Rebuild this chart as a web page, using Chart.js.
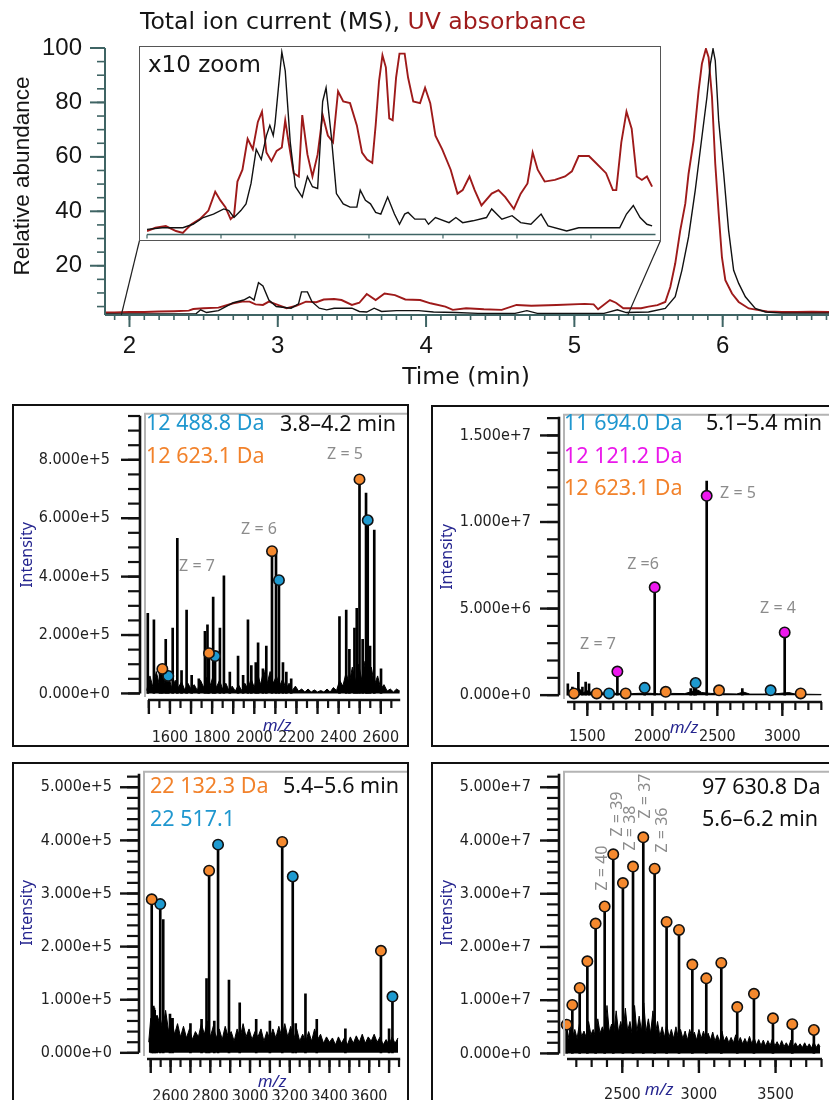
<!DOCTYPE html>
<html><head><meta charset="utf-8">
<script src="https://cdn.jsdelivr.net/npm/chart.js@4.4.1/dist/chart.umd.min.js"></script>
<style>
html,body{margin:0;padding:0;background:#fff;width:829px;height:1100px;overflow:hidden;position:relative}
canvas{position:absolute}
.box{position:absolute;border:2px solid #111;box-sizing:border-box;background:#fff}
.t{position:absolute;white-space:nowrap;line-height:1}
.c{transform:translate(-50%,-50%)}
.l{transform:translate(0,-50%)}
.rv{transform:translate(-50%,-50%) rotate(-90deg)}
.top{font-family:'DejaVu Sans',sans-serif;color:#151515}
.ar{font-family:'Liberation Sans',Arial,sans-serif;color:#151515}
.lab{font-family:'Noto Sans',sans-serif;font-size:21.5px}
.z{font-family:'Noto Sans',sans-serif;font-size:16px;color:#8c8c8c}
.nav{font-family:'Noto Sans',sans-serif;font-size:16px;color:#25258f}
.mz{font-family:'Noto Sans',sans-serif;font-size:17px;color:#25258f;font-style:italic}
</style></head><body>

<canvas id="cTop" width="829" height="392" style="left:0;top:0;width:829px;height:392px"></canvas>
<div class="box" style="left:139px;top:46px;width:522px;height:195px;border:1.5px solid #555"></div>
<canvas id="cInset" width="518" height="191" style="left:141px;top:48px;width:518px;height:191px"></canvas>

<div class="box" style="left:12px;top:404px;width:397px;height:343px"></div>
<div class="box" style="left:431px;top:405px;width:402px;height:342px"></div>
<div class="box" style="left:12px;top:762px;width:397px;height:360px"></div>
<div class="box" style="left:431px;top:762px;width:402px;height:360px"></div>

<canvas id="cA" width="393" height="338" style="left:14px;top:406px;width:393px;height:338px"></canvas>
<canvas id="cB" width="396" height="338" style="left:433px;top:407px;width:396px;height:338px"></canvas>
<canvas id="cC" width="393" height="336" style="left:14px;top:764px;width:393px;height:336px"></canvas>
<canvas id="cD" width="396" height="336" style="left:433px;top:764px;width:396px;height:336px"></canvas>

<!-- top chart texts -->
<div class="t top" style="left:140px;top:22px;font-size:23.6px;transform:translate(0,-50%)">Total ion current (MS), <span style="color:#9e1a1a">UV absorbance</span></div>
<div class="t ar rv" style="left:22px;top:176px;font-size:22.5px">Relative abundance</div>
<div class="t top c" style="left:466px;top:377px;font-size:23.5px">Time (min)</div>
<div class="t top l" style="left:148px;top:64px;font-size:23px">x10 zoom</div>

<!-- panel A -->
<div class="t lab l" style="left:146px;top:422px;color:#1f97cf">12 488.8 Da</div>
<div class="t lab l" style="left:146px;top:455px;color:#f2822b">12 623.1 Da</div>
<div class="t lab l" style="left:280px;top:423px;color:#111">3.8–4.2 min</div>
<div class="t z c" style="left:345px;top:453px">Z = 5</div>
<div class="t z c" style="left:259px;top:528px">Z = 6</div>
<div class="t z c" style="left:197px;top:565px">Z = 7</div>
<div class="t nav rv" style="left:26px;top:555px">Intensity</div>
<div class="t mz c" style="left:277px;top:724px">m/z</div>

<!-- panel B -->
<div class="t lab l" style="left:564px;top:422px;color:#1f97cf">11 694.0 Da</div>
<div class="t lab l" style="left:564px;top:455px;color:#ea18ea">12 121.2 Da</div>
<div class="t lab l" style="left:564px;top:487px;color:#f2822b">12 623.1 Da</div>
<div class="t lab l" style="left:706px;top:422px;color:#111">5.1–5.4 min</div>
<div class="t z c" style="left:738px;top:492px">Z = 5</div>
<div class="t z c" style="left:643px;top:563px">Z =6</div>
<div class="t z c" style="left:778px;top:607px">Z = 4</div>
<div class="t z c" style="left:598px;top:643px">Z = 7</div>
<div class="t nav rv" style="left:446px;top:557px">Intensity</div>
<div class="t mz c" style="left:684px;top:726px">m/z</div>

<!-- panel C -->
<div class="t lab l" style="left:150px;top:785px;color:#f2822b">22 132.3 Da</div>
<div class="t lab l" style="left:283px;top:785px;color:#111">5.4–5.6 min</div>
<div class="t lab l" style="left:150px;top:818px;color:#1f97cf">22 517.1</div>
<div class="t nav rv" style="left:26px;top:913px">Intensity</div>
<div class="t mz c" style="left:272px;top:1080px">m/z</div>

<!-- panel D -->
<div class="t lab l" style="left:702px;top:786px;color:#111">97 630.8 Da</div>
<div class="t lab l" style="left:702px;top:818px;color:#111">5.6–6.2 min</div>
<div class="t z rv" style="left:601px;top:868px">Z = 40</div>
<div class="t z rv" style="left:616px;top:814px">Z = 39</div>
<div class="t z rv" style="left:629px;top:828px">Z = 38</div>
<div class="t z rv" style="left:644px;top:796px">Z = 37</div>
<div class="t z rv" style="left:661px;top:830px">Z = 36</div>
<div class="t nav rv" style="left:446px;top:913px">Intensity</div>
<div class="t mz c" style="left:659px;top:1088px">m/z</div>

<script>
// ================= DATA =================
// Top chromatogram: [time (min), relative abundance]
const topXTicks = [2, 3, 4, 5, 6];
const topYTicks = [20, 40, 60, 80, 100];
const ticMain = [[1.82,2.3],[2.0,2.3],[2.3,2.3],[2.45,2.4],[2.48,3.8],[2.52,2.8],[2.6,3.5],[2.65,5.0],[2.70,6.4],[2.77,7.4],[2.81,8.6],[2.84,7.4],[2.87,13.8],[2.90,12.6],[2.94,7.4],[2.99,5.0],[3.09,4.4],[3.14,6.0],[3.16,10.4],[3.20,10.4],[3.23,6.8],[3.28,4.4],[3.33,3.8],[3.38,4.4],[3.50,4.4],[3.55,3.2],[3.60,3.0],[3.65,4.4],[3.70,3.2],[3.80,3.5],[3.95,3.5],[4.05,3.0],[4.20,2.8],[4.35,2.5],[4.60,2.5],[4.68,3.5],[4.75,2.5],[5.20,2.5],[5.29,3.8],[5.35,2.8],[5.50,3.0],[5.613,4.3],[5.68,8.6],[5.725,18.3],[5.77,30.6],[5.815,47.7],[5.86,67.3],[5.894,82],[5.917,94.2],[5.935,99.7],[5.95,95.4],[5.973,73.4],[6.007,53.8],[6.04,33],[6.074,18.3],[6.108,13.5],[6.153,8.6],[6.22,4.3],[6.288,3.0],[6.40,2.6],[6.72,2.6]];
const uvMain = [[1.82,2.8],[1.9,2.8],[2.0,3.0],[2.1,3.0],[2.2,3.2],[2.3,3.3],[2.4,3.5],[2.43,4.1],[2.5,4.4],[2.6,4.6],[2.65,5.4],[2.7,6.2],[2.76,6.8],[2.81,6.8],[2.85,5.8],[2.9,5.6],[2.94,6.8],[3.0,5.6],[3.06,4.4],[3.12,5.2],[3.19,6.8],[3.26,6.6],[3.31,7.6],[3.38,7.8],[3.43,7.4],[3.5,5.6],[3.55,6.4],[3.6,9.6],[3.66,7.4],[3.72,9.8],[3.79,9.2],[3.86,7.6],[3.96,7.4],[4.03,6.2],[4.13,5.0],[4.18,3.8],[4.27,4.4],[4.39,4.0],[4.51,3.8],[4.61,5.6],[4.71,5.3],[4.88,5.6],[5.07,6.0],[5.13,5.8],[5.16,4.0],[5.24,7.4],[5.28,6.4],[5.33,4.4],[5.45,4.4],[5.5,5.0],[5.56,5.5],[5.613,6.7],[5.647,12.2],[5.68,20.8],[5.714,33],[5.748,42.8],[5.77,53.8],[5.804,66],[5.838,84.4],[5.86,94.2],[5.887,99.7],[5.905,96.6],[5.928,82],[5.95,57.5],[5.973,39.2],[5.995,23.2],[6.018,14.7],[6.063,9.8],[6.108,6.7],[6.176,4.3],[6.243,3.7],[6.3,3.2],[6.4,3.0],[6.5,3.0],[6.6,3.1],[6.72,3.0]];
// x10 zoom inset: [time (min), scaled abundance]
const ticInset = [[2.000,2.8],[2.104,3.7],[2.242,3.7],[2.311,5.6],[2.380,9.3],[2.449,11.2],[2.519,14.0],[2.553,13.1],[2.588,9.3],[2.634,13.1],[2.669,16.8],[2.703,28.0],[2.738,46.7],[2.772,41.1],[2.807,54.2],[2.830,59.8],[2.853,54.2],[2.865,60.8],[2.888,80.4],[2.911,100.0],[2.934,89.7],[2.968,50.5],[3.003,26.2],[3.049,20.5],[3.084,31.8],[3.118,26.2],[3.153,25.2],[3.187,72.9],[3.210,80.4],[3.245,54.2],[3.280,22.4],[3.326,16.8],[3.372,15.0],[3.418,15.0],[3.441,24.3],[3.476,18.7],[3.510,16.8],[3.545,12.1],[3.580,11.2],[3.626,20.5],[3.672,11.2],[3.706,5.6],[3.741,11.2],[3.764,12.1],[3.810,8.4],[3.879,8.4],[3.902,5.6],[3.949,9.3],[4.041,6.5],[4.087,9.3],[4.133,6.5],[4.202,7.5],[4.294,9.3],[4.329,14.0],[4.398,8.4],[4.467,10.3],[4.525,6.5],[4.594,5.6],[4.663,11.2],[4.710,4.7],[4.836,1.9],[4.917,3.7],[5.194,3.7],[5.240,11.2],[5.286,15.9],[5.332,9.3],[5.378,5.6],[5.413,4.7]];
const uvInset = [[2.000,1.9],[2.057,3.7],[2.127,4.6],[2.196,1.9],[2.242,0.9],[2.265,2.8],[2.300,5.6],[2.357,8.4],[2.415,13.1],[2.461,23.4],[2.496,18.7],[2.530,15.0],[2.565,8.4],[2.588,10.3],[2.611,29.0],[2.645,35.5],[2.680,52.4],[2.715,46.7],[2.749,61.7],[2.777,67.3],[2.807,44.9],[2.841,40.2],[2.876,45.8],[2.911,47.7],[2.934,62.6],[2.957,50.5],[2.991,33.6],[3.026,31.8],[3.049,65.4],[3.084,43.9],[3.118,31.8],[3.153,43.9],[3.187,65.4],[3.222,54.2],[3.257,50.5],[3.291,78.5],[3.326,72.9],[3.372,72.0],[3.418,59.8],[3.453,44.9],[3.487,41.1],[3.522,39.3],[3.545,59.8],[3.568,84.1],[3.591,98.2],[3.614,91.6],[3.637,63.6],[3.660,62.6],[3.683,86.0],[3.706,99.1],[3.741,99.1],[3.764,86.0],[3.799,72.9],[3.845,72.0],[3.879,80.4],[3.914,72.0],[3.949,54.2],[3.995,46.7],[4.052,35.5],[4.098,22.4],[4.133,24.3],[4.179,31.8],[4.214,24.3],[4.260,15.9],[4.329,22.4],[4.375,24.3],[4.421,20.5],[4.479,14.0],[4.525,22.4],[4.571,28.0],[4.606,44.9],[4.640,35.5],[4.687,29.0],[4.756,29.9],[4.825,31.8],[4.871,34.6],[4.917,43.0],[4.986,43.0],[5.032,39.3],[5.102,33.6],[5.148,24.3],[5.171,24.3],[5.205,50.5],[5.240,67.3],[5.275,58.0],[5.309,31.8],[5.344,29.9],[5.378,31.8],[5.413,26.2]];

// Panel A (3.8–4.2 min): [m/z, intensity in thousands]
const xLabelsA = [1600, 1800, 2000, 2200, 2400, 2600];
const yLabelsA = [0, 2e5, 4e5, 6e5, 8e5];
const sticksA = [[1495,274],[1524,252],[1553,84],[1564,84],[1580,185],[1592,60],[1613,224],[1635,531],[1655,78],[1679,285],[1703,62],[1737,50],[1766,213],[1778,235],[1785,138],[1805,330],[1814,128],[1837,224],[1856,403],[1884,73],[1923,128],[1947,62],[1970,252],[1986,95],[2007,106],[2018,173],[2041,84],[2057,162],[2084,487],[2103,477],[2117,388],[2136,106],[2152,73],[2175,50],[2404,263],[2436,285],[2451,151],[2475,224],[2486,291],[2499,733],[2514,185],[2530,686],[2538,593],[2549,162],[2569,559],[2601,84]];
const noiseA = [[1490,10],[1505,60],[1520,20],[1535,75],[1550,30],[1565,70],[1580,25],[1595,55],[1610,15],[1625,45],[1640,20],[1655,40],[1670,12],[1685,35],[1700,15],[1715,30],[1730,10],[1745,45],[1760,20],[1775,55],[1790,25],[1805,60],[1820,20],[1835,45],[1850,15],[1865,35],[1880,10],[1895,25],[1910,8],[1925,30],[1940,10],[1955,35],[1970,15],[1985,50],[2000,20],[2015,70],[2030,30],[2045,80],[2060,30],[2075,75],[2090,35],[2105,60],[2120,25],[2135,50],[2150,15],[2165,35],[2180,10],[2195,25],[2210,8],[2225,15],[2240,5],[2255,15],[2270,5],[2285,12],[2300,5],[2315,10],[2330,5],[2345,15],[2360,5],[2375,20],[2390,10],[2405,45],[2420,25],[2435,70],[2450,35],[2465,90],[2480,40],[2495,100],[2510,45],[2525,110],[2540,40],[2555,90],[2570,30],[2585,60],[2600,15],[2615,30],[2630,8],[2645,15],[2660,5],[2675,15],[2690,8]];
const orangeA = [[1564,84],[1785,138],[2084,487],[2499,733]];
const blueA = [[1592,60],[1814,128],[2117,388],[2538,593]];

// Panel B (5.1–5.4 min): [m/z, intensity in thousands]
const xLabelsB = [1500, 2000, 2500, 3000];
const yLabelsB = [0, 5e6, 1e7, 1.5e7];
const sticksB = [[1350,660],[1385,470],[1397,100],[1431,1320],[1462,470],[1487,750],[1513,660],[1572,100],[1667,100],[1731,1420],[1795,100],[1941,420],[2018,6300],[2103,190],[2295,380],[2320,550],[2333,700],[2418,12360],[2513,280],[2692,380],[2910,280],[3018,3680],[3141,100]];
const noiseB = [[1346,150],[1370,300],[1400,120],[1440,350],[1470,150],[1500,250],[1540,120],[1600,150],[1650,90],[1700,120],[1760,80],[1850,90],[1950,120],[2050,80],[2150,100],[2250,90],[2300,200],[2350,300],[2380,150],[2450,100],[2550,80],[2650,70],[2700,180],[2750,60],[2850,60],[2950,80],[3050,150],[3100,60],[3200,50],[3300,40]];
const blueB = [[1667,100],[1941,420],[2333,700],[2910,280]];
const magentaB = [[1731,1360],[2018,6230],[2418,11510],[3018,3620]];
const orangeB = [[1397,100],[1572,100],[1795,100],[2103,190],[2513,280],[3141,100]];

// Panel C (5.4–5.6 min): [m/z, intensity in thousands]
const xLabelsC = [2600, 2800, 3000, 3200, 3400, 3600];
const yLabelsC = [0, 1e5, 2e5, 3e5, 4e5, 5e5];
const sticksC = [[2505,289],[2513,88],[2520,80],[2530,70],[2548,280],[2563,251],[2597,73],[2610,65],[2700,55],[2756,63],[2781,140],[2794,343],[2820,60],[2839,392],[2894,137],[2948,94],[3031,63],[3100,60],[3162,397],[3215,332],[3230,55],[3279,111],[3336,63],[3480,45],[3659,192],[3700,45],[3717,106]];
const noiseC = [[2490,20],[2500,65],[2510,40],[2520,85],[2530,50],[2545,70],[2560,45],[2575,80],[2590,40],[2605,65],[2620,35],[2635,55],[2650,30],[2665,50],[2680,28],[2695,45],[2710,25],[2725,40],[2740,30],[2755,55],[2770,35],[2785,60],[2800,30],[2815,50],[2830,28],[2845,45],[2860,25],[2875,50],[2890,30],[2905,40],[2920,22],[2935,45],[2950,28],[2965,55],[2980,30],[2995,45],[3010,25],[3025,40],[3040,30],[3055,45],[3070,22],[3085,40],[3100,25],[3115,45],[3130,28],[3145,50],[3160,30],[3175,55],[3190,30],[3205,50],[3220,25],[3235,45],[3250,22],[3265,35],[3280,20],[3295,40],[3310,22],[3325,45],[3340,25],[3355,35],[3370,18],[3385,30],[3400,20],[3415,28],[3430,15],[3445,30],[3460,18],[3475,28],[3490,15],[3505,30],[3520,18],[3535,32],[3550,20],[3565,35],[3580,18],[3595,30],[3610,22],[3625,35],[3640,20],[3655,30],[3670,15],[3685,25],[3700,15],[3715,30],[3730,18],[3745,28]];
const orangeC = [[2505,289],[2794,343],[3162,397],[3659,192]];
const blueC = [[2548,280],[2839,392],[3215,332],[3717,106]];

// Panel D (5.6–6.2 min): [m/z, intensity in millions]
const xLabelsD = [2500, 3000, 3500];
const yLabelsD = [0, 1e7, 2e7, 3e7, 4e7, 5e7];
const orangeD = [[2137,5.4],[2174,9.1],[2222,12.3],[2272,17.3],[2326,24.4],[2385,27.6],[2441,37.4],[2504,32.0],[2570,35.1],[2637,40.6],[2711,34.7],[2789,24.7],[2870,23.2],[2957,16.7],[3048,14.1],[3146,17.0],[3250,8.7],[3359,11.2],[3483,6.6],[3609,5.5],[3750,4.4]];
const noiseD = [[2145,2.5],[2160,5.0],[2175,3.0],[2190,4.5],[2205,2.8],[2220,5.5],[2235,3.2],[2250,4.2],[2265,3.0],[2280,6.0],[2295,3.5],[2310,4.5],[2325,3.2],[2340,6.5],[2355,3.8],[2370,5.0],[2385,3.5],[2400,9.0],[2415,4.0],[2430,5.5],[2445,3.8],[2460,8.0],[2475,4.0],[2490,6.0],[2505,3.8],[2520,8.5],[2535,4.2],[2550,6.0],[2565,3.5],[2580,9.0],[2595,4.0],[2610,7.0],[2625,4.2],[2640,9.5],[2655,4.0],[2670,6.5],[2685,3.8],[2700,8.0],[2715,3.5],[2730,6.0],[2745,3.2],[2760,5.0],[2775,3.0],[2790,5.5],[2805,3.0],[2820,4.5],[2835,2.8],[2850,5.0],[2865,3.0],[2880,4.5],[2895,2.8],[2910,4.2],[2925,2.5],[2940,4.5],[2955,2.8],[2970,4.0],[2985,2.5],[3000,4.5],[3015,2.8],[3030,4.2],[3045,2.5],[3060,3.8],[3075,2.5],[3090,4.0],[3105,2.3],[3120,3.5],[3135,2.2],[3150,4.2],[3165,2.3],[3180,3.2],[3195,2.0],[3210,3.0],[3225,2.0],[3240,3.5],[3255,2.0],[3270,3.0],[3285,1.8],[3300,2.8],[3315,1.8],[3330,3.2],[3345,1.8],[3360,3.0],[3375,1.6],[3390,2.6],[3405,1.5],[3420,2.5],[3435,1.4],[3450,2.4],[3465,1.5],[3480,2.8],[3495,1.4],[3510,2.2],[3525,1.3],[3540,2.4],[3555,1.3],[3570,2.0],[3585,1.2],[3600,2.5],[3615,1.3],[3630,2.0],[3645,1.2],[3660,1.8],[3675,1.1],[3690,2.0],[3705,1.1],[3720,1.8],[3735,1.0],[3750,2.2],[3765,1.1],[3780,1.8],[3790,1.2]];

// ================= STYLE / LAYOUT =================
const ORANGE = '#f5892e', BLUE = '#1e9ad0', MAGENTA = '#ee18ee';
const RED = '#9e1a1a', TEAL = '#3f6464';
const TICKFONT = "'DejaVu Sans Condensed','Noto Sans',sans-serif";
const ARIAL = "'Liberation Sans',Arial,sans-serif";

function stepsIn(min, max, step) {
  const out = [];
  for (let k = Math.ceil(min / step - 1e-9); k * step <= max + 1e-9; k++) out.push(k * step);
  return out;
}

const decor = {
  id: 'decor',
  afterDraw(chart, args, o) {
    if (!o || !o.on) return;
    const ctx = chart.ctx, a = chart.chartArea, x = chart.scales.x, y = chart.scales.y;
    ctx.save();
    ctx.lineCap = 'butt';
    if (o.frame) {
      ctx.strokeStyle = o.frame.color; ctx.lineWidth = o.frame.width;
      const fx = a.left + o.frame.offset;
      ctx.beginPath(); ctx.moveTo(fx, a.bottom - o.frame.bottomGap); ctx.lineTo(fx, a.top + 1); ctx.lineTo(chart.width, a.top + 1); ctx.stroke();
    }
    ctx.strokeStyle = o.color;
    if (o.yLine) {
      const top = a.top + o.yLine.topGap;
      const bot = o.yLine.toZero ? y.getPixelForValue(0) : a.bottom;
      ctx.lineWidth = o.yLine.width;
      ctx.beginPath(); ctx.moveTo(a.left, top); ctx.lineTo(a.left, bot); ctx.stroke();
      for (const t of o.yTicks) {
        ctx.lineWidth = t.w;
        for (const v of stepsIn(Math.max(y.min, t.from), y.max, t.step)) {
          const py = y.getPixelForValue(v);
          if (py < top - 0.5) continue;
          ctx.beginPath(); ctx.moveTo(a.left - t.len, py); ctx.lineTo(a.left, py); ctx.stroke();
        }
      }
    }
    if (o.xLine) {
      const x0 = a.left + o.xLine.leftGap;
      ctx.lineWidth = o.xLine.width;
      ctx.beginPath(); ctx.moveTo(x0, a.bottom); ctx.lineTo(a.right, a.bottom); ctx.stroke();
      for (const t of o.xTicks) {
        ctx.lineWidth = t.w;
        for (const v of stepsIn(x.getValueForPixel(x0), x.max, t.step)) {
          const px = x.getPixelForValue(v);
          ctx.beginPath(); ctx.moveTo(px, a.bottom); ctx.lineTo(px, a.bottom + t.len); ctx.stroke();
        }
      }
    }
    if (o.connectors) {
      ctx.strokeStyle = '#222'; ctx.lineWidth = 1.2;
      for (const c of o.connectors) {
        ctx.beginPath(); ctx.moveTo(x.getPixelForValue(c.t), a.bottom); ctx.lineTo(c.px, c.py); ctx.stroke();
      }
    }
    ctx.restore();
  }
};
Chart.register(decor);

const base = { responsive: false, animation: false, events: [], devicePixelRatio: window.devicePixelRatio || 1 };
function zeroPad(s) { s.paddingLeft = 0; s.paddingRight = 0; s.paddingTop = 0; s.paddingBottom = 0; }
const pts = (arr, k) => arr.map(p => ({ x: p[0], y: p[1] * k }));

// ---------- Top chromatogram ----------
new Chart(document.getElementById('cTop'), {
  type: 'line',
  data: { datasets: [
    { data: pts(ticMain, 1), borderColor: '#111', borderWidth: 1.4, pointRadius: 0, tension: 0 },
    { data: pts(uvMain, 1), borderColor: RED, borderWidth: 1.9, pointRadius: 0, tension: 0 }
  ]},
  options: Object.assign({}, base, {
    layout: { padding: { top: 48, right: 0, left: 0, bottom: 0 } },
    plugins: { legend: { display: false }, tooltip: { enabled: false },
      decor: { on: true, color: TEAL,
        yLine: { width: 2, topGap: 0, toZero: false },
        yTicks: [{ step: 5, len: 8, w: 1.6, from: 0 }, { step: 20, len: 15, w: 2, from: 0 }],
        xLine: { width: 2, leftGap: 0 },
        xTicks: [{ step: 0.1, len: 5, w: 1.6 }, { step: 1, len: 12, w: 2 }],
        connectors: [{ t: 1.945, px: 139.5, py: 240.5 }, { t: 5.36, px: 660.5, py: 240.5 }]
      } },
    scales: {
      x: { type: 'linear', min: 1.835, max: 6.717, offset: false,
        grid: { display: false, drawTicks: false }, border: { display: false },
        afterBuildTicks: s => { s.ticks = topXTicks.map(v => ({ value: v })); },
        afterFit: s => { s.height = 77; zeroPad(s); },
        ticks: { autoSkip: false, maxRotation: 0, minRotation: 0, padding: 17, color: '#151515',
          font: { family: ARIAL, size: 24 }, callback: v => String(v) } },
      y: { type: 'linear', min: 1.9, max: 100.0,
        grid: { display: false, drawTicks: false }, border: { display: false },
        afterBuildTicks: s => { s.ticks = topYTicks.map(v => ({ value: v })); },
        afterFit: s => { s.width = 105; zeroPad(s); },
        ticks: { padding: 23, color: '#151515', font: { family: ARIAL, size: 24 }, callback: v => String(v) } }
    }
  })
});

// ---------- x10 zoom inset ----------
new Chart(document.getElementById('cInset'), {
  type: 'line',
  data: { datasets: [
    { data: pts(ticInset, 1), borderColor: '#111', borderWidth: 1.4, pointRadius: 0, tension: 0 },
    { data: pts(uvInset, 1), borderColor: RED, borderWidth: 1.9, pointRadius: 0, tension: 0 }
  ]},
  options: Object.assign({}, base, {
    layout: { padding: { top: 0, right: 3.5, left: 6, bottom: 4.5 } },
    plugins: { legend: { display: false }, tooltip: { enabled: false },
      decor: { on: true, color: TEAL,
        xLine: { width: 1.6, leftGap: 0 },
        xTicks: [{ step: 0.5, len: 4, w: 1.2 }] } },
    scales: {
      x: { type: 'linear', min: 2.0, max: 5.436, display: false },
      y: { type: 'linear', min: 0, max: 102.2, display: false }
    }
  })
});

// ---------- Mass spectra ----------
function spectrum(id, g, d) {
  const datasets = [];
  d.markers.forEach(m => datasets.push({ type: 'scatter', data: pts(m.data, d.unit), pointRadius: 5.2,
    pointBackgroundColor: m.color, pointBorderColor: '#111', pointBorderWidth: 1.6, order: 0 }));
  datasets.push({ type: 'bar', data: pts(d.sticks, d.unit), backgroundColor: '#000', barThickness: 2, order: 1 });
  datasets.push({ type: 'line', data: pts(d.noise, d.unit), borderColor: '#000', backgroundColor: '#000',
    borderWidth: 1, fill: 'origin', pointRadius: 0, tension: 0, order: 2 });
  new Chart(document.getElementById(id), {
    type: 'bar',
    data: { datasets },
    options: Object.assign({}, base, {
      layout: { padding: { top: g.areaTop - g.cy, right: g.cx + g.cw - g.areaRight, left: 0, bottom: 0 } },
      plugins: { legend: { display: false }, tooltip: { enabled: false },
        decor: { on: true, color: '#111',
          frame: { color: '#b4b4b4', width: 2, offset: 5, bottomGap: 3 },
          yLine: { width: 2.6, topGap: 3, toZero: true },
          yTicks: [{ step: d.yMinor, len: 12, w: 2.2, from: 0 }, { step: d.yMajor, len: 19, w: 2.4, from: 0 }],
          xLine: { width: 2.6, leftGap: 8 },
          xTicks: [{ step: d.xMinor, len: 8, w: 2.2 }, { step: d.xMajor, len: 14, w: 2.4 }] } },
      scales: {
        x: { type: 'linear', min: g.xmin, max: g.xmax, offset: false,
          grid: { display: false, drawTicks: false }, border: { display: false },
          afterBuildTicks: s => { s.ticks = d.xLabels.map(v => ({ value: v })); },
          afterFit: s => { s.height = g.cy + g.ch - g.areaBottom; zeroPad(s); },
          ticks: { autoSkip: false, maxRotation: 0, minRotation: 0, padding: g.xpad, color: '#222',
            font: { family: TICKFONT, size: 16 }, callback: v => String(v) } },
        y: { type: 'linear', min: g.ymin, max: g.ymax,
          grid: { display: false, drawTicks: false }, border: { display: false },
          afterBuildTicks: s => { s.ticks = d.yLabels.map(v => ({ value: v })); },
          afterFit: s => { s.width = g.areaLeft - g.cx; zeroPad(s); },
          ticks: { padding: g.ypad, color: '#222', font: { family: TICKFONT, size: 16 },
            callback: v => Number(v).toExponential(3) } }
      }
    })
  });
}

spectrum('cA',
  { cx: 14, cy: 406, cw: 393, ch: 338, areaLeft: 140, areaTop: 407, areaRight: 401, areaBottom: 700,
    xmin: 1458, xmax: 2692, ymin: -2.25e4, ymax: 9.61e5, xpad: 28, ypad: 30 },
  { unit: 1e3, sticks: sticksA, noise: noiseA, xLabels: xLabelsA, yLabels: yLabelsA,
    xMinor: 50, xMajor: 100, yMinor: 5e4, yMajor: 2e5,
    markers: [{ data: orangeA, color: ORANGE }, { data: blueA, color: BLUE }] });

spectrum('cB',
  { cx: 433, cy: 407, cw: 396, ch: 338, areaLeft: 559, areaTop: 408, areaRight: 822, areaBottom: 702,
    xmin: 1282, xmax: 3305, ymin: -3.96e5, ymax: 1.625e7, xpad: 25, ypad: 28 },
  { unit: 1e3, sticks: sticksB, noise: noiseB, xLabels: xLabelsB, yLabels: yLabelsB,
    xMinor: 100, xMajor: 500, yMinor: 1e6, yMajor: 5e6,
    markers: [{ data: blueB, color: BLUE }, { data: magentaB, color: MAGENTA }, { data: orangeB, color: ORANGE }] });

spectrum('cC',
  { cx: 14, cy: 764, cw: 393, ch: 336, areaLeft: 139, areaTop: 765, areaRight: 401, areaBottom: 1059,
    xmin: 2441, xmax: 3756, ymin: -1.16e4, ymax: 5.31e5, xpad: 28, ypad: 27 },
  { unit: 1e3, sticks: sticksC, noise: noiseC, xLabels: xLabelsC, yLabels: yLabelsC,
    xMinor: 50, xMajor: 100, yMinor: 2e4, yMajor: 1e5,
    markers: [{ data: orangeC, color: ORANGE }, { data: blueC, color: BLUE }] });

spectrum('cD',
  { cx: 433, cy: 764, cw: 396, ch: 336, areaLeft: 559, areaTop: 765, areaRight: 822, areaBottom: 1059,
    xmin: 2087, xmax: 3803, ymin: -1.05e6, ymax: 5.31e7, xpad: 26, ypad: 28 },
  { unit: 1e6, sticks: orangeD, noise: noiseD, xLabels: xLabelsD, yLabels: yLabelsD,
    xMinor: 100, xMajor: 500, yMinor: 2e6, yMajor: 1e7,
    markers: [{ data: orangeD, color: ORANGE }] });
</script>
</body></html>
